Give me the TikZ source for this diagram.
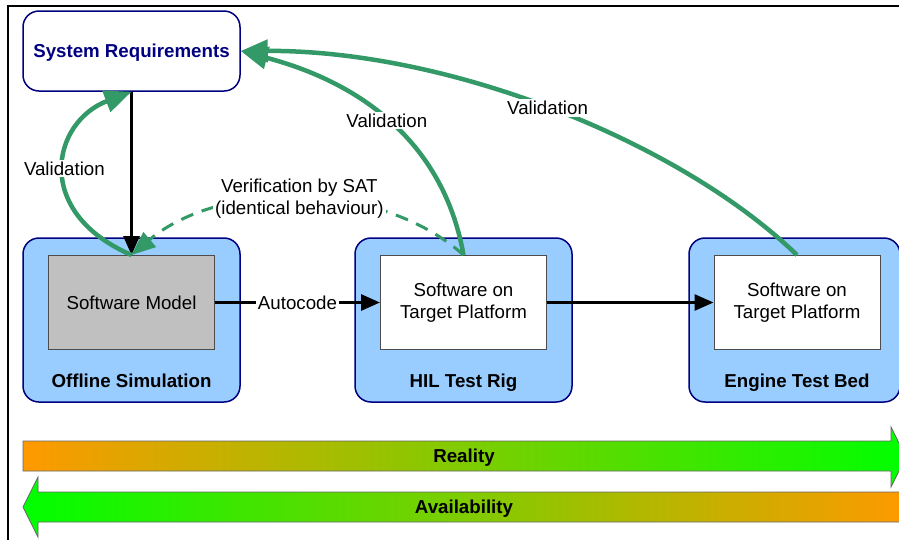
\documentclass[tikz,border=0pt]{standalone}
\usepackage{fontspec}
\setmainfont{Liberation Sans}
\usetikzlibrary{arrows.meta,positioning}
\definecolor{navyline}{HTML}{000080}
\definecolor{stagefill}{HTML}{99CCFF}
\definecolor{modelgray}{HTML}{C0C0C0}
\definecolor{valgreen}{HTML}{339966}
\definecolor{barorange}{HTML}{FF9900}
\definecolor{bargreen}{HTML}{00FF00}

\begin{document}
\begin{tikzpicture}[x=1pt, y=-1pt, node distance=115pt, every node/.style={font=\fontsize{18.7}{22.5}\selectfont}, reqbox/.style={draw=navyline, line width=1.5pt, rounded corners=16pt, fill=white, minimum width=217pt, minimum height=80pt, text=navyline, text height=13.5pt, text depth=0pt, font=\fontsize{18.7}{22.5}\selectfont\bfseries}, stage/.style={draw=navyline, line width=1.5pt, rounded corners=16pt, fill=stagefill, minimum width=217pt, minimum height=164pt, outer sep=0pt}, swbox/.style={draw=black!70, line width=1pt, fill=white, minimum width=166pt, minimum height=94pt, align=center}, stagelabel/.style={font=\fontsize{18.7}{22.5}\selectfont\bfseries, inner sep=0pt, text height=13.5pt, text depth=0pt}, flow/.style={-{Triangle[length=19pt,width=16pt]}, line width=3pt}, valid/.style={-{Triangle[length=27pt,width=22pt]}, draw=valgreen, line width=4.5pt}, verify/.style={-{Triangle[length=24pt,width=19pt]}, draw=valgreen, line width=3pt, dash pattern=on 13pt off 9pt}, lbl/.style={fill=white, inner sep=2pt, align=center}, levelbar/.style={draw=black!60, line width=0.8pt}]
\useasboundingbox (0,0) rectangle (899,539);
\clip (0,0) rectangle (899,539);
\draw[line width=2pt] (8,545) |- (905,6);
% requirements and the three test stages
\node[reqbox] (req) at (131.5,51) {System Requirements};
\node[stage] (offline) at (131.5,320) {};
\node[stage, right=of offline] (hil) {};
\node[stage, right=117pt of hil, minimum width=211pt] (etb) {};
\node[swbox, fill=modelgray, below=17pt of offline.north] (model) {Software Model};
\node[swbox, below=17pt of hil.north] (hilsw) {Software on\\Target Platform};
\node[swbox, below=17pt of etb.north, xshift=2.5pt] (etbsw) {Software on\\Target Platform};
\node[stagelabel, above=14pt of offline.south] (offlinelbl) {Offline Simulation};
\node[stagelabel, above=14pt of hil.south] (hillbl) {HIL Test Rig};
\node[stagelabel, above=14pt of etb.south, xshift=2.5pt] (etblbl) {Engine Test Bed};
% connectors
\draw[flow] (req.south) -- (model.north); \draw[flow] (model) -- node[lbl] (autocode) {Autocode} (hilsw); \draw[flow] (hilsw) -- (etbsw);
\draw[valid] (model.north) .. controls (32,212) and (52,122) .. node[lbl, pos=0.5] (val1) {Validation} (req.south);
\draw[valid] (hilsw.north) .. controls (445,150) and (370,85) .. node[lbl, pos=0.53] (val2) {Validation} (req.east);
\draw[valid] (etbsw.north) .. controls (680,142) and (450,50) .. node[lbl, pos=0.51] (val3) {Validation} (req.east);
\draw[verify] (hilsw.north) .. controls (380,180) and (220,180) .. node[lbl] (sat) {Verification by SAT\\(identical behaviour)} (model.north);
% reality / availability bars
\shadedraw[levelbar, left color=barorange, right color=bargreen] (23,441) -- (891,441) -- (891,427) -- (906,457) -- (891,487) -- (891,471) -- (23,471) -- cycle;
\shadedraw[levelbar, left color=bargreen, right color=barorange] (23,507) -- (38,477) -- (38,492) -- (910,492) -- (910,522) -- (38,522) -- (38,537) -- cycle;
\node[stagelabel] (reality) at (464,456) {Reality};
\node[stagelabel] (avail) at (464,507) {Availability};
\end{tikzpicture}
\end{document}
